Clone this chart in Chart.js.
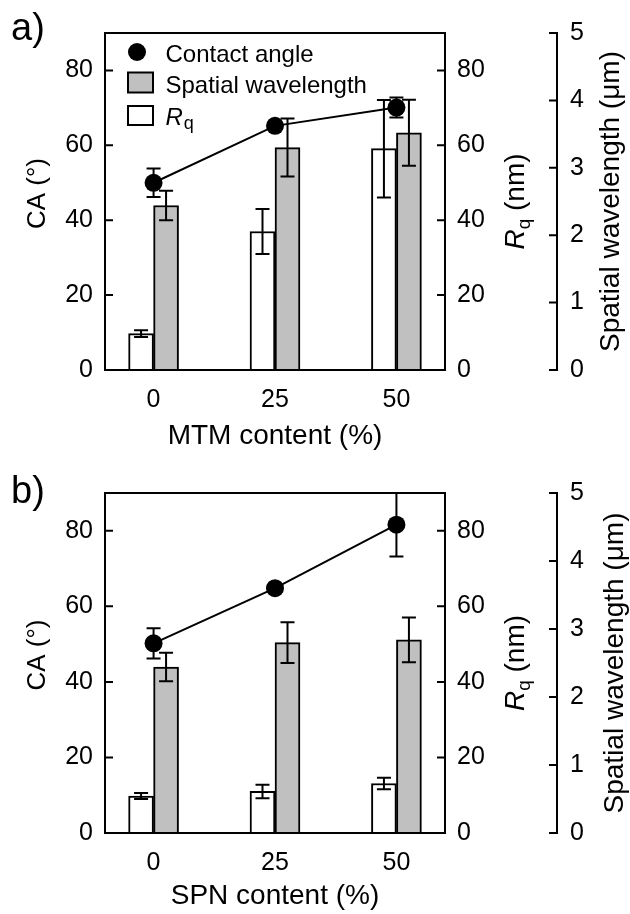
<!DOCTYPE html>
<html>
<head>
<meta charset="utf-8">
<script src="https://cdn.jsdelivr.net/npm/chart.js@4.4.1/dist/chart.umd.min.js"></script>
<style>
  html, body { margin: 0; padding: 0; background: #fff; overflow: hidden; }
  canvas { display: block; }
</style>
</head>
<body>
<canvas id="chartA" width="630" height="460"></canvas>
<canvas id="chartB" width="630" height="460"></canvas>
<script>
// x positions (content, %) and tick lists
const contents = [0, 25, 50];
const caTicks = [0, 20, 40, 60, 80];
const wlTicks = [0, 1, 2, 3, 4, 5];

// a) MTM series
const mtmCA = [50.0, 65.2, 70.1];
const mtmCAErr = [3.8, 0.8, 2.7];
const mtmRq = [9.7, 37.0, 59.1];
const mtmRqErr = [0.9, 6.0, 13.0];
const mtmWL = [2.44, 3.30, 3.52];
const mtmWLErr = [0.22, 0.43, 0.49];

// b) SPN series
const spnCA = [50.2, 64.8, 81.6];
const spnCAErr = [4.0, 0.6, 8.4];
const spnRq = [9.8, 11.0, 13.1];
const spnRqErr = [0.8, 1.8, 1.5];
const spnWL = [2.44, 2.80, 2.84];
const spnWLErr = [0.21, 0.30, 0.33];

const FONT = "'Liberation Sans', Arial, Helvetica, sans-serif";
Chart.defaults.font.family = FONT;
Chart.defaults.color = '#000';

// text turned 90deg counter-clockwise, x = baseline, y = centre
function drawUpright(ctx, x, y, parts) {
  ctx.save();
  ctx.translate(x, y);
  ctx.rotate(-Math.PI / 2);
  ctx.textAlign = 'left';
  ctx.textBaseline = 'alphabetic';
  ctx.fillStyle = '#000';
  let total = 0;
  parts.forEach(p => { ctx.font = p.font; p.w = ctx.measureText(p.text).width; total += p.w; });
  let cx = -total / 2;
  parts.forEach(p => { ctx.font = p.font; ctx.fillText(p.text, cx, p.dy || 0); cx += p.w; });
  ctx.restore();
}

const panelFrame = {
  id: 'panelFrame',
  afterDatasetsDraw(chart, args, opts) {
    const { ctx, chartArea: a } = chart;
    ctx.save();
    ctx.beginPath();
    ctx.rect(a.left, a.top, a.right - a.left, a.bottom - a.top);
    ctx.clip();
    ctx.strokeStyle = '#000';
    ctx.lineWidth = 2;
    const cap = opts.cap / 2;
    chart.data.datasets.forEach((ds, i) => {
      if (!ds.errors) return;
      const ys = chart.scales[ds.yAxisID];
      chart.getDatasetMeta(i).data.forEach((el, j) => {
        const v = ds.data[j].y, e = ds.errors[j];
        const hi = ys.getPixelForValue(v + e);
        const lo = ys.getPixelForValue(v - e);
        ctx.beginPath();
        ctx.moveTo(el.x, hi); ctx.lineTo(el.x, lo);
        ctx.moveTo(el.x - cap, hi); ctx.lineTo(el.x + cap, hi);
        ctx.moveTo(el.x - cap, lo); ctx.lineTo(el.x + cap, lo);
        ctx.stroke();
      });
    });
    ctx.restore();
  },
  afterDraw(chart, args, opts) {
    const { ctx, chartArea: a, scales } = chart;
    ctx.save();
    ctx.strokeStyle = '#000';
    ctx.fillStyle = '#000';
    ctx.lineWidth = 2;
    ctx.strokeRect(a.left, a.top, a.right - a.left, a.bottom - a.top);

    // inward ticks on the box, outward-left ticks on the wavelength axis
    ctx.beginPath();
    caTicks.forEach(v => {
      const y = scales.y.getPixelForValue(v);
      ctx.moveTo(a.left, y); ctx.lineTo(a.left + opts.tick, y);
      const yr = scales.yRq.getPixelForValue(v);
      ctx.moveTo(a.right - opts.tick, yr); ctx.lineTo(a.right, yr);
    });
    const wx = scales.yWl.left;
    wlTicks.forEach(v => {
      const y = scales.yWl.getPixelForValue(v);
      ctx.moveTo(wx - opts.tick, y); ctx.lineTo(wx, y);
    });
    ctx.stroke();

    const yc = (a.top + a.bottom) / 2;
    drawUpright(ctx, opts.caX, yc - 8, [{ text: 'CA (°)', font: '26px ' + FONT }]);
    drawUpright(ctx, opts.rqX, yc, [
      { text: 'R', font: 'italic 28px ' + FONT },
      { text: 'q', font: '19px ' + FONT, dy: 6 },
      { text: ' (nm)', font: '28px ' + FONT }
    ]);
    drawUpright(ctx, opts.wlX, yc, [{ text: 'Spatial wavelength (μm)', font: '28px ' + FONT }]);

    ctx.textAlign = 'left';
    ctx.textBaseline = 'alphabetic';
    ctx.font = '38px ' + FONT;
    ctx.fillText(opts.tag, 11, opts.tagY);

    if (opts.legend) {
      const ds = chart.data.datasets;
      ctx.beginPath();
      ctx.arc(137, 52, 9, 0, Math.PI * 2);
      ctx.fillStyle = ds[0].pointBackgroundColor;
      ctx.fill();
      ctx.fillStyle = ds[2].backgroundColor;
      ctx.fillRect(128, 72.5, 25, 20);
      ctx.strokeRect(128, 72.5, 25, 20);
      ctx.fillStyle = ds[1].backgroundColor;
      ctx.fillRect(128, 106, 25, 19);
      ctx.strokeRect(128, 106, 25, 19);
      ctx.fillStyle = '#000';
      ctx.font = '24px ' + FONT;
      ctx.fillText(ds[0].label, 165.5, 61.5);
      ctx.fillText(ds[2].label, 165.5, 93);
      ctx.font = 'italic 24px ' + FONT;
      ctx.fillText('R', 165.5, 125);
      const rw = ctx.measureText('R').width;
      ctx.font = '18px ' + FONT;
      ctx.fillText('q', 165.5 + rw + 1, 129);
    }
    ctx.restore();
  }
};

function pts(vals) {
  return vals.map((v, i) => ({ x: contents[i], y: v }));
}

function fixedTicks(list) {
  return scale => { scale.ticks = list.map(v => ({ value: v })); };
}

function makePanel(p) {
  const tickFont = { size: 25 };
  return new Chart(document.getElementById(p.id), {
    type: 'bar',
    data: {
      datasets: [
        {
          type: 'line', label: 'Contact angle', data: pts(p.ca), errors: p.caErr,
          yAxisID: 'y', borderColor: '#000', borderWidth: 2,
          pointRadius: 9, pointBackgroundColor: '#000', pointBorderColor: '#000', pointBorderWidth: 0
        },
        {
          label: 'Rq', data: pts(p.rq), errors: p.rqErr, yAxisID: 'yRq',
          backgroundColor: '#ffffff', borderColor: '#000', borderWidth: 2, barThickness: 25
        },
        {
          label: 'Spatial wavelength', data: pts(p.wl), errors: p.wlErr, yAxisID: 'yWl',
          backgroundColor: '#c0c0c0', borderColor: '#000', borderWidth: 2, barThickness: 25
        }
      ]
    },
    options: {
      responsive: false,
      animation: false,
      events: [],
      layout: { padding: { top: 33, left: 0, right: 0, bottom: 0 } },
      scales: {
        x: {
          type: 'linear', min: -10, max: 60, offset: false,
          afterBuildTicks: fixedTicks(contents),
          grid: { display: false, drawTicks: false }, border: { display: false },
          ticks: { font: tickFont, padding: 15, autoSkip: false, maxRotation: 0 },
          title: { display: true, text: p.xTitle, font: { size: 28 }, padding: { top: 0, bottom: 7 } },
          afterFit: s => { s.height = p.xHeight; }
        },
        y: {
          position: 'left', min: 0, max: 90,
          afterBuildTicks: fixedTicks(caTicks),
          grid: { display: false, drawTicks: false }, border: { display: false },
          ticks: { font: tickFont, padding: 12 },
          afterFit: s => { s.width = 105; }
        },
        yRq: {
          position: 'right', min: 0, max: 90,
          afterBuildTicks: fixedTicks(caTicks),
          grid: { display: false, drawTicks: false }, border: { display: false },
          ticks: { font: tickFont, padding: 12 },
          afterFit: s => { s.width = 112; }
        },
        yWl: {
          position: 'right', min: 0, max: 5,
          afterBuildTicks: fixedTicks(wlTicks),
          grid: { display: false, drawTicks: false },
          border: { display: true, color: '#000', width: 2 },
          ticks: { font: tickFont, padding: 13 },
          afterFit: s => { s.width = 73; }
        }
      },
      plugins: {
        legend: { display: false },
        tooltip: { enabled: false },
        panelFrame: {
          cap: 14, tick: 8, caX: 44.5, rqX: 524, wlX: p.wlX,
          tag: p.tag, tagY: p.tagY, legend: p.legend
        }
      }
    },
    plugins: [panelFrame]
  });
}

makePanel({
  id: 'chartA', tag: 'a)', tagY: 40, xTitle: 'MTM content (%)', legend: true,
  xHeight: 90, wlX: 619,
  ca: mtmCA, caErr: mtmCAErr, rq: mtmRq, rqErr: mtmRqErr, wl: mtmWL, wlErr: mtmWLErr
});

makePanel({
  id: 'chartB', tag: 'b)', tagY: 42.5, xTitle: 'SPN content (%)', legend: false,
  xHeight: 87, wlX: 623,
  ca: spnCA, caErr: spnCAErr, rq: spnRq, rqErr: spnRqErr, wl: spnWL, wlErr: spnWLErr
});
</script>
</body>
</html>
